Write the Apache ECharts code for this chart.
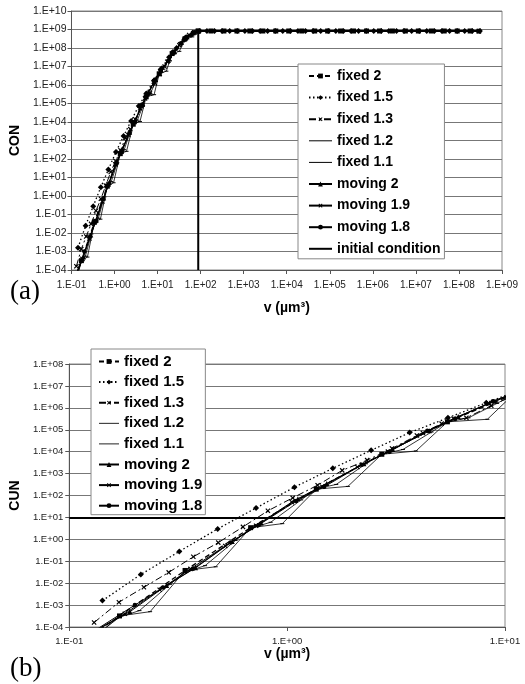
<!DOCTYPE html>
<html><head><meta charset="utf-8">
<script src="https://cdn.jsdelivr.net/npm/echarts@6/dist/echarts.min.js"></script>
<style>html,body{margin:0;padding:0;background:#fff;}#c{width:525px;height:684px;}</style>
</head><body><div id="c"></div>
<script>
// ---------- data (v in µm^3, cumulative number) ----------
const namesA = ['fixed 2','fixed 1.5','fixed 1.3','fixed 1.2','fixed 1.1','moving 2','moving 1.9','moving 1.8','initial condition'];
const namesB = ['fixed 2','fixed 1.5','fixed 1.3','fixed 1.2','fixed 1.1','moving 2','moving 1.9','moving 1.8'];

const fixed2V = [0.085, 0.17, 0.34, 0.68, 1.36, 2.72, 5.44, 10.9, 21.8, 43.5, 87];
const fixed2C = [2.5e-6, 3.2e-4, 3.8e-2, 3.4, 195, 7600, 2.3e5, 4.0e6, 5.0e7, 3.2e8, 8.3e8];
const fixed2TailV = [174, 348, 696, 1390, 2790, 5570, 11100, 22300, 44600, 89100, 178000, 356000, 713000, 1430000, 2850000, 5700000, 11400000, 22800000, 45600000, 91200000, 182000000];

const fixed15V = [0.142, 0.213, 0.32, 0.48, 0.72, 1.08, 1.62, 2.43, 3.65, 5.47, 8.2, 12.3, 18.5, 27.7, 41.6, 62.3, 93.5];
const fixed15C = [1.6e-3, 2.5e-2, 0.28, 3.0, 27, 240, 1740, 1.15e4, 7.4e4, 3.5e5, 1.7e6, 7.9e6, 3.2e7, 1.0e8, 2.8e8, 5.6e8, 8.3e8];
const fixed15TailV = [140, 210, 315, 473, 710, 1065, 1600, 2400, 3600, 5390, 8090, 12100, 18200, 27300, 41000, 61400, 92100, 138000, 207000, 311000, 466000, 700000, 1050000, 1570000, 2360000, 3540000, 5310000, 7970000, 11950000, 17900000, 26900000, 40300000, 60500000, 90700000, 136000000, 204000000, 306000000];

const fixed13V = [0.13, 0.169, 0.22, 0.286, 0.371, 0.483, 0.627, 0.816, 1.06, 1.38, 1.79, 2.33, 3.03, 3.94, 5.12, 6.65, 8.65, 11.2, 14.6, 19, 24.7, 32.1, 41.7, 54.2, 70.5, 91.6];
const fixed13C = [1.6e-4, 1.35e-3, 6.5e-3, 3.1e-2, 0.16, 0.71, 3.7, 20, 78, 295, 1400, 4100, 1.4e4, 5.5e4, 1.9e5, 3.5e5, 1.26e6, 4.0e6, 1.0e7, 2.5e7, 6.3e7, 1.4e8, 2.8e8, 5.0e8, 7.1e8, 8.3e8];

const fixed12V = [0.12, 0.17, 0.21, 0.29, 0.34, 0.42, 0.58, 0.68, 0.84, 1.16, 1.36, 1.68, 2.3, 2.72, 3.4, 4.6, 5.44, 6.8, 9.2, 10.9, 13.6, 21.8, 27, 43.5, 55, 87];
const fixed12C = [2.0e-5, 2.8e-4, 5.6e-4, 8.9e-3, 3.2e-2, 6.3e-2, 0.89, 3.2, 6.0, 63, 200, 320, 2800, 7600, 1.26e4, 7.9e4, 2.3e5, 3.5e5, 1.6e6, 4.0e6, 7.1e6, 5.0e7, 7.9e7, 3.2e8, 4.5e8, 8.3e8];

const fixed11V = [0.12, 0.17, 0.235, 0.34, 0.47, 0.68, 0.95, 1.36, 1.9, 2.72, 3.9, 5.44, 8.3, 10.9, 16, 21.8, 32, 43.5, 64, 87];
const fixed11C = [1.6e-5, 3.2e-4, 5.0e-4, 3.8e-2, 5.6e-2, 3.4, 5.2, 195, 260, 7600, 1.07e4, 2.3e5, 3.0e5, 4.0e6, 5.6e6, 5.0e7, 6.6e7, 3.2e8, 4.0e8, 8.3e8];

const moving2V = [0.12, 0.19, 0.28, 0.38, 0.56, 0.76, 1.12, 1.52, 2.25, 3.05, 4.5, 6.1, 9.0, 12.2, 18, 24.4, 36, 48.8, 72, 88];
const moving2C = [4.0e-5, 5.0e-4, 7.9e-3, 5.0e-2, 0.79, 5.6, 71, 355, 2800, 1.26e4, 8.9e4, 4.0e5, 2.0e6, 6.3e6, 2.2e7, 6.3e7, 2.0e8, 4.0e8, 7.1e8, 8.3e8];

const moving19V = [0.115, 0.18, 0.26, 0.36, 0.52, 0.72, 1.05, 1.45, 2.1, 2.9, 4.2, 5.8, 8.4, 11.5, 16.8, 23, 33.6, 46, 67, 88];
const moving19C = [3.2e-5, 4.0e-4, 5.0e-3, 4.5e-2, 0.5, 4.2, 50, 250, 2000, 1.0e4, 7.1e4, 3.2e5, 1.6e6, 5.6e6, 1.8e7, 5.6e7, 1.6e8, 3.5e8, 6.3e8, 8.3e8];

const moving18V = [0.12, 0.2, 0.27, 0.37, 0.55, 0.74, 1.1, 1.48, 2.2, 2.95, 4.4, 5.9, 8.8, 11.8, 17.6, 23.6, 35, 47, 70, 88];
const moving18C = [4.0e-5, 1.0e-3, 6.3e-3, 4.5e-2, 0.71, 4.5, 56, 250, 2500, 1.0e4, 8.9e4, 3.2e5, 2.0e6, 6.3e6, 2.0e7, 6.3e7, 1.8e8, 4.0e8, 7.1e8, 8.3e8];

const tailLevel = 8.3e8;
const tailEndV = 2.9e8;
const initV = [88, 88, 2.9e8];
const initC = [1e-4, 8.3e8, 8.3e8];
const crossLevelB = 10;

// ---------- build ----------
function pairs(v, c) { return v.map((x, i) => [x, c[i]]); }
function tail(v) { return v.map(x => [x, tailLevel]); }

const dataMap = {
  'fixed 2': pairs(fixed2V, fixed2C).concat(tail(fixed2TailV)),
  'fixed 1.5': pairs(fixed15V, fixed15C).concat(tail(fixed15TailV)),
  'fixed 1.3': pairs(fixed13V, fixed13C).concat(tail([tailEndV])),
  'fixed 1.2': pairs(fixed12V, fixed12C).concat(tail([tailEndV])),
  'fixed 1.1': pairs(fixed11V, fixed11C).concat(tail([tailEndV])),
  'moving 2': pairs(moving2V, moving2C).concat(tail([tailEndV])),
  'moving 1.9': pairs(moving19V, moving19C).concat(tail([tailEndV])),
  'moving 1.8': pairs(moving18V, moving18C).concat(tail([tailEndV])),
  'initial condition': pairs(initV, initC)
};

const xPath = 'path://M4,0H6V4H10V6H6V10H4V6H0V4H4Z';
const styles = {
  'fixed 2': {type: [5, 3], symbol: 'rect', size: 5, width: 1.3},
  'fixed 1.5': {type: [1.5, 2.5], symbol: 'diamond', size: 6, width: 1.3},
  'fixed 1.3': {type: [7, 3, 2, 3], symbol: xPath, size: 6, width: 1, rot: 45},
  'fixed 1.2': {type: 'solid', symbol: 'rect', size: [4, 1], width: 0.8},
  'fixed 1.1': {type: 'solid', symbol: 'rect', size: [4, 1], width: 0.8},
  'moving 2': {type: 'solid', symbol: 'triangle', size: 5, width: 1},
  'moving 1.9': {type: 'solid', symbol: xPath, size: 6, width: 1, rot: 45},
  'moving 1.8': {type: 'solid', symbol: 'circle', size: 4.5, width: 1},
  'initial condition': {type: 'solid', symbol: 'none', size: 0, width: 2}
};

function mkSeries(name, gi) {
  const s = styles[name];
  return {
    type: 'line', name: name, xAxisIndex: gi, yAxisIndex: gi,
    data: dataMap[name], clip: true,
    symbol: s.symbol, symbolSize: s.size, symbolRotate: s.rot || 0, showSymbol: s.symbol !== 'none',
    lineStyle: {color: '#000', width: s.width, type: s.type},
    itemStyle: {color: '#000'},
    emphasis: {disabled: true}
  };
}

function sciLabel(v) {
  const e = Math.round(Math.log10(v));
  return '1.E' + (e < 0 ? '-' : '+') + String(Math.abs(e)).padStart(2, '0');
}

const FONT = 'Liberation Sans';
const series = namesA.map(n => mkSeries(n, 0)).concat(namesB.map(n => mkSeries(n, 1)));
series[series.length - 1].markLine = {
  silent: true, symbol: ['none', 'none'], label: {show: false},
  lineStyle: {color: '#000', width: 2, type: 'solid'},
  data: [{yAxis: crossLevelB}]
};

// legend entries: thin plain lines need their own icon (no marker)
const thinIcon = 'path://M0,0H23V1H0Z';
const thickIcon = 'path://M0,0H23V2H0Z';
function legendItems(names) {
  return names.map(n => {
    if (n === 'fixed 1.2' || n === 'fixed 1.1') return {name: n, icon: thinIcon};
    if (n === 'initial condition') return {name: n, icon: thickIcon};
    return {name: n};
  });
}

function xAx(gi, min, max, fs, margin, gap) {
  return {
    type: 'log', gridIndex: gi, min: min, max: max, interval: 1, logBase: 10,
    axisLine: {show: true, lineStyle: {color: '#555', width: 1}},
    axisTick: {show: true, length: 4, lineStyle: {color: '#555'}},
    minorTick: {show: false}, splitLine: {show: false},
    axisLabel: {formatter: sciLabel, fontSize: fs, color: '#222', fontFamily: FONT, margin: margin},
    name: 'v (µm³)', nameLocation: 'middle', nameGap: gap,
    nameTextStyle: {fontFamily: FONT, fontWeight: 'bold', fontSize: 14, color: '#000'}
  };
}
function yAx(gi, min, max, fs, margin, name, gap) {
  return {
    type: 'log', gridIndex: gi, min: min, max: max, interval: 1, logBase: 10,
    axisLine: {show: true, lineStyle: {color: '#555', width: 1}},
    axisTick: {show: true, length: 4, lineStyle: {color: '#555'}},
    splitLine: {show: true, lineStyle: {color: '#777', width: 1}},
    axisLabel: {formatter: sciLabel, fontSize: fs, color: '#222', fontFamily: FONT, margin: margin},
    name: name, nameLocation: 'middle', nameGap: gap, nameRotate: 90,
    nameTextStyle: {fontFamily: FONT, fontWeight: 'bold', fontSize: 14, color: '#000'}
  };
}

const option = {
  animation: false,
  backgroundColor: '#fff',
  grid: [
    {left: 68, top: 11, width: 434, height: 259, show: true, borderColor: '#888', borderWidth: 1},
    {left: 63, top: 364, width: 442, height: 263, show: true, borderColor: '#888', borderWidth: 1}
  ],
  xAxis: [xAx(0, 0.1, 1e9, 10, 10, 31), xAx(1, 0.1, 10, 9.5, 9, 19)],
  yAxis: [yAx(0, 1e-4, 1e10, 10.5, 5, 'CON', 43), yAx(1, 1e-4, 1e8, 9.5, 6, 'CUN', 39)],
  legend: [
    {data: legendItems(namesA), orient: 'vertical', left: 298, top: 64, padding: [5, 4, 3, 10],
     backgroundColor: '#fff', borderColor: '#888', borderWidth: 1,
     itemWidth: 23, itemHeight: 6, itemGap: 7.6, selectedMode: false,
     textStyle: {fontFamily: FONT, fontWeight: 'bold', fontSize: 14, lineHeight: 14, color: '#000'}},
    {data: legendItems(namesB), orient: 'vertical', left: 91, top: 349, padding: [5, 3, 1.5, 7],
     backgroundColor: '#fff', borderColor: '#888', borderWidth: 1,
     itemWidth: 20, itemHeight: 6, itemGap: 5.6, selectedMode: false,
     textStyle: {fontFamily: FONT, fontWeight: 'bold', fontSize: 15, lineHeight: 15, color: '#000'}}
  ],
  graphic: [
    {type: 'text', left: 10, top: 278, style: {text: '(a)', font: '27px "Liberation Serif"', fill: '#000'}},
    {type: 'text', left: 10, top: 655, style: {text: '(b)', font: '27px "Liberation Serif"', fill: '#000'}}
  ],
  series: series
};

const chart = echarts.init(document.getElementById('c'), null, {renderer: 'canvas'});
chart.setOption(option);
</script>
</body></html>
